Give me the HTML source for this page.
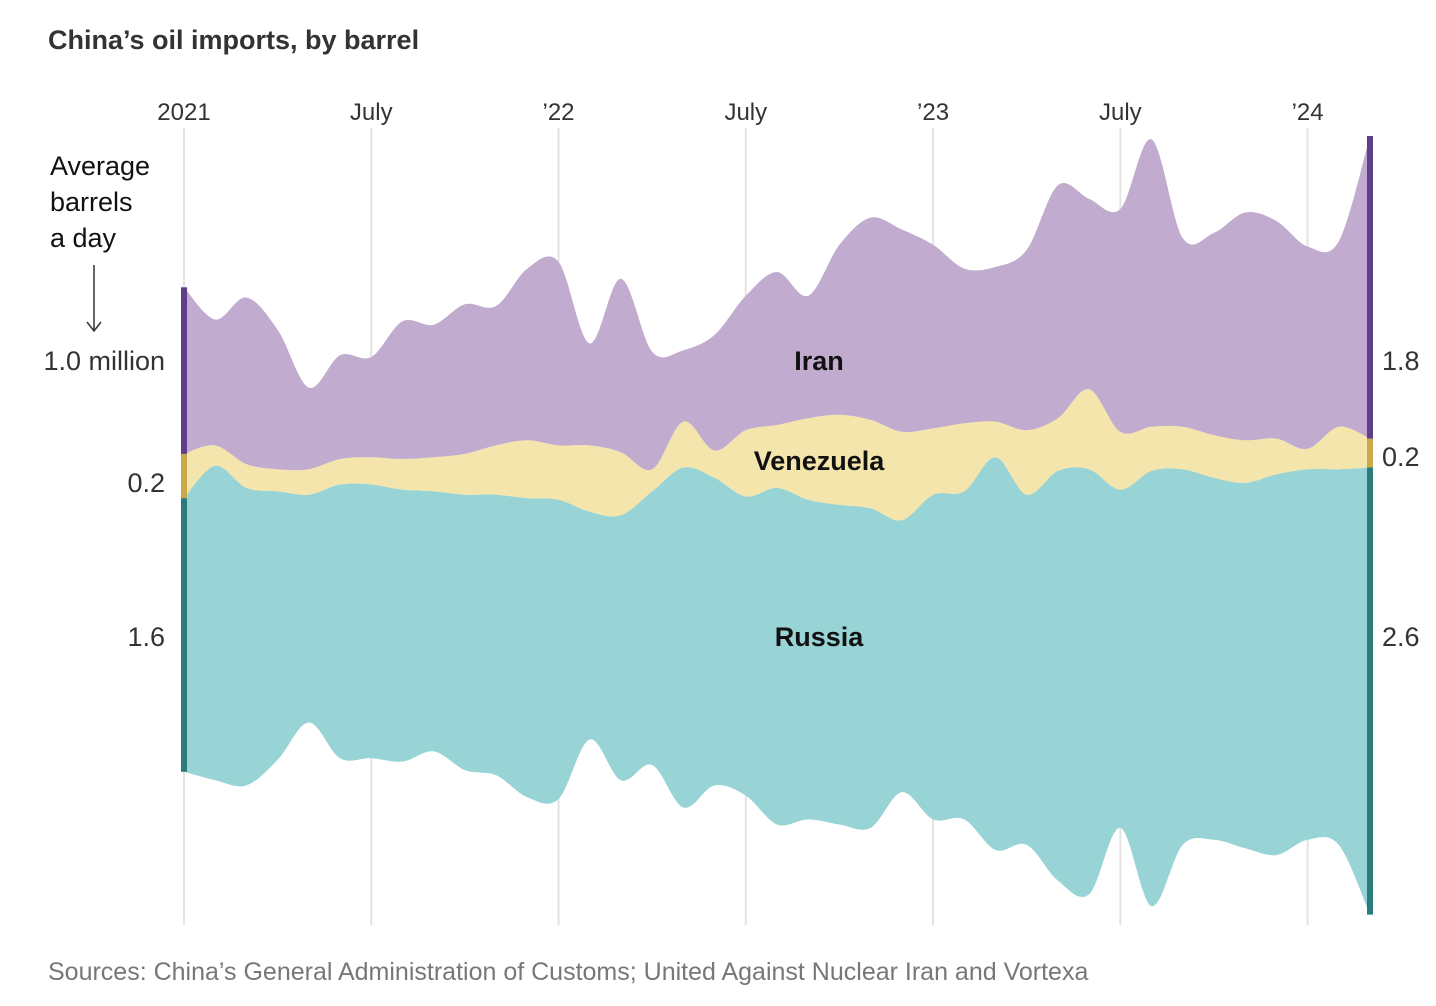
<!DOCTYPE html>
<html><head><meta charset="utf-8">
<style>
body{margin:0;background:#fff;}
svg text{font-family:"Liberation Sans",sans-serif;}
</style></head>
<body>
<svg width="1436" height="1001" viewBox="0 0 1436 1001" xmlns="http://www.w3.org/2000/svg">
<text x="48" y="49" font-size="27" font-weight="bold" fill="#333">China’s oil imports, by barrel</text>
<g id="grid"></g>
<g id="ticks"></g>
<g id="streams"></g>
<g id="edges"></g>
<text x="50" y="175" font-size="27" fill="#111"><tspan x="50">Average</tspan><tspan x="50" dy="36">barrels</tspan><tspan x="50" dy="36">a day</tspan></text>
<line x1="94" y1="265" x2="94" y2="330" stroke="#333" stroke-width="1.5"/>
<path d="M87 322 L94 331 L101 322" fill="none" stroke="#333" stroke-width="1.5"/>
<g id="vals" font-size="27" fill="#333"></g>
<text x="819" y="370" font-size="27" font-weight="bold" text-anchor="middle" fill="#111">Iran</text>
<text x="819" y="470" font-size="27" font-weight="bold" text-anchor="middle" fill="#111">Venezuela</text>
<text x="819" y="646" font-size="27" font-weight="bold" text-anchor="middle" fill="#111">Russia</text>
<text x="48" y="980" font-size="25" fill="#777">Sources: China’s General Administration of Customs; United Against Nuclear Iran and Vortexa</text>
</svg>
<script>
const tickLabels = ["2021","July","’22","July","’23","July","’24"];
const tickMonths = [0,6,12,18,24,30,36];
const iran = [0.98,0.74,0.98,0.82,0.48,0.61,0.59,0.81,0.78,0.88,0.82,1.01,1.08,0.60,1.02,0.69,0.42,0.68,0.79,0.90,0.72,1.00,1.19,1.19,1.08,0.91,0.91,1.06,1.37,1.12,1.31,1.69,1.11,1.19,1.34,1.28,1.19,1.09,1.78];
const venezuela = [0.26,0.12,0.14,0.13,0.15,0.15,0.16,0.18,0.20,0.24,0.29,0.34,0.32,0.39,0.37,0.13,0.27,0.16,0.39,0.37,0.48,0.53,0.52,0.52,0.39,0.40,0.21,0.38,0.31,0.47,0.34,0.26,0.25,0.25,0.25,0.21,0.12,0.25,0.17];
const russia = [1.61,1.85,1.75,1.58,1.34,1.61,1.61,1.60,1.53,1.62,1.65,1.76,1.76,1.34,1.56,1.61,2.00,1.81,1.76,1.98,1.88,1.88,1.88,1.60,1.91,1.93,2.31,2.06,2.41,2.50,1.99,2.56,2.21,2.13,2.15,2.24,2.18,2.21,2.63];
const baseline = [-1.44,-1.49,-1.52,-1.37,-1.15,-1.36,-1.36,-1.38,-1.32,-1.43,-1.46,-1.59,-1.60,-1.25,-1.49,-1.40,-1.65,-1.52,-1.58,-1.75,-1.72,-1.75,-1.77,-1.56,-1.72,-1.72,-1.90,-1.87,-2.08,-2.16,-1.77,-2.23,-1.87,-1.84,-1.89,-1.93,-1.84,-1.87,-2.28];
const startLabels = ["1.0 million","0.2","1.6"];
const endLabels = ["1.8","0.2","2.6"];

const NS="http://www.w3.org/2000/svg";
const x0=184, x1=1370, n=iran.length;
const xs = m => x0 + (x1-x0)*m/(n-1);
const ys = v => 527 - v*170;
function mk(t,a,p){const e=document.createElementNS(NS,t);for(const k in a)e.setAttribute(k,a[k]);p.appendChild(e);return e;}

const grid=document.getElementById('grid'), ticks=document.getElementById('ticks');
tickMonths.forEach((m,i)=>{
  const l=mk('line',{x1:xs(m),x2:xs(m),y1:128,y2:925,stroke:'#e3e3e3','stroke-width':2},grid);
  
  
  const t=mk('text',{x:xs(m),y:120,'font-size':24,'text-anchor':'middle',fill:'#333'},ticks);
  t.textContent=tickLabels[i];
  
  
});

const L0=baseline.slice();
const L1=L0.map((b,i)=>b+russia[i]);
const L2=L1.map((b,i)=>b+venezuela[i]);
const L3=L2.map((b,i)=>b+iran[i]);
function pts(arr){return arr.map((v,i)=>[xs(i),ys(v)]);}
function spline(p,move){
  let d=(move?'M':'L')+p[0][0].toFixed(1)+' '+p[0][1].toFixed(1);
  for(let i=0;i<p.length-1;i++){
    const a=p[Math.max(0,i-1)],b=p[i],c=p[i+1],e=p[Math.min(p.length-1,i+2)];
    const c1=[b[0]+(c[0]-a[0])/6,b[1]+(c[1]-a[1])/6], c2=[c[0]-(e[0]-b[0])/6,c[1]-(e[1]-b[1])/6];
    d+=' C'+c1[0].toFixed(1)+' '+c1[1].toFixed(1)+' '+c2[0].toFixed(1)+' '+c2[1].toFixed(1)+' '+c[0].toFixed(1)+' '+c[1].toFixed(1);
  }
  return d;
}
function band(lo,hi){return spline(pts(hi),true)+' '+spline(pts(lo).reverse(),false)+'Z';}
const streams=document.getElementById('streams');
const specs=[[L0,L1,'#98d3d6','russia-stream'],[L1,L2,'#f3e5ab','venezuela-stream'],[L2,L3,'#c1abcf','iran-stream']];
specs.forEach(s=>{
  const p=mk('path',{d:band(s[0],s[1]),fill:s[2]},streams);
  
  
});
const edges=document.getElementById('edges');
const dark=['#2a7b7b','#c9a94a','#5e3f8a'];
const levels=[L0,L1,L2,L3];
[0,n-1].forEach(i=>{
  for(let k=0;k<3;k++){
    const yA=ys(levels[k+1][i]), yB=ys(levels[k][i]);
    const r=mk('rect',{x:xs(i)-3,y:yA,width:6,height:yB-yA,fill:dark[k]},edges);
    
    
  }
});
const vals=document.getElementById('vals');
const startY=[370,492,646], endY=[370,466,646];
startLabels.forEach((s,k)=>{
  const t=mk('text',{x:165,y:startY[k],'text-anchor':'end','font-size':27},vals);
  t.textContent=s;
  
  
});
endLabels.forEach((s,k)=>{
  const t=mk('text',{x:1382,y:endY[k],'font-size':27},vals);
  t.textContent=s;
  
  
});
</script>
</body></html>
